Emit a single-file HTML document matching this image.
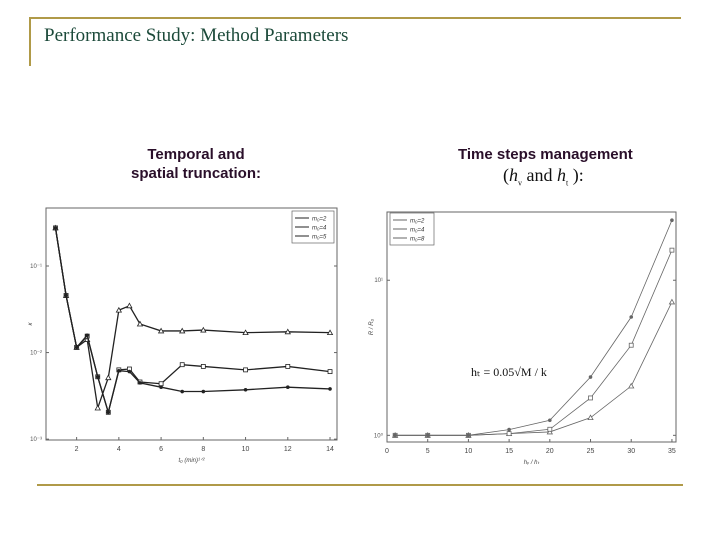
<!DOCTYPE html>
<html><head><meta charset="utf-8"><style>
body{margin:0;background:#fff;}
#root{position:relative;width:720px;height:540px;overflow:hidden;background:#fff;font-family:"Liberation Sans",sans-serif;}
.ln{position:absolute;background:#b09a48;}
.t{position:absolute;white-space:nowrap;}
</style></head><body>
<div id="root">
<div class="ln" style="left:29px;top:17px;width:652px;height:2px"></div>
<div class="ln" style="left:29px;top:17px;width:2px;height:49px"></div>
<div class="ln" style="left:37px;top:484px;width:646px;height:2px"></div>
<div class="t" style="left:44px;top:25px;font-family:'Liberation Serif',serif;font-size:19px;color:#1c4a3a">Performance Study: Method Parameters</div>
<div class="t" style="left:196px;top:145px;transform:translateX(-50%);text-align:center;font-size:15px;font-weight:bold;line-height:19px;color:#2a0f2a">Temporal and<br>spatial truncation:</div>
<div class="t" style="left:458px;top:146px;font-size:15px;font-weight:bold;color:#2a0f2a">Time steps management</div>
<div class="t" style="left:503px;top:165px;font-family:'Liberation Serif',serif;font-size:18px;color:#111">(<i>h</i><sub style="font-size:8px">v</sub> and <i>h</i><sub style="font-size:8px">t</sub> ):</div>
<svg id="c1" style="position:absolute;left:0;top:0" width="720" height="540"></svg>
</div>
<script>
// Left chart data
const xs1 = [1,1.5,2,2.5,3,3.5,4,4.5,5,6,7,8,10,12,14];
const logTri1 = [-0.56,-1.34,-1.94,-1.85,-2.64,-2.29,-1.51,-1.46,-1.67,-1.75,-1.75,-1.74,-1.77,-1.76,-1.77];
const logSq1 = [-0.56,-1.34,-1.94,-1.81,-2.28,-2.69,-2.20,-2.19,-2.34,-2.36,-2.14,-2.16,-2.20,-2.16,-2.22];
const logStar1 = [-0.56,-1.34,-1.94,-1.80,-2.28,-2.69,-2.21,-2.22,-2.35,-2.40,-2.45,-2.45,-2.43,-2.40,-2.42];
const xTicks1 = [2,4,6,8,10,12,14];
const yTicks1 = [-3,-2,-1];
// Right chart data
const xs2 = [1,5,10,15,20,25,30,35];
const logTri2 = [0,0,0,0.011,0.022,0.114,0.318,0.860];
const logSq2 = [0,0,0,0.011,0.039,0.241,0.581,1.194];
const logStar2 = [0,0,0,0.037,0.097,0.376,0.763,1.387];
const xTicks2 = [0,5,10,15,20,25,30,35];
const yTicks2 = [0,1];

const NS="http://www.w3.org/2000/svg";
const svg=document.getElementById('c1');
function mk(tag,attrs,parent){const e=document.createElementNS(NS,tag);for(const k in attrs)e.setAttribute(k,attrs[k]);(parent||svg).appendChild(e);return e;}

function chart(o){
  const g=mk('g',{});
  
  
  const X=v=>o.L+(v-o.x0)/(o.x1-o.x0)*(o.R-o.L);
  const Y=v=>o.B-(v-o.y0)/(o.y1-o.y0)*(o.B-o.T);
  const fr=mk('rect',{x:o.L,y:o.T,width:o.R-o.L,height:o.B-o.T,fill:'none',stroke:'#666','stroke-width':1},g);
  
  
  o.xt.forEach(v=>{
    mk('line',{x1:X(v),x2:X(v),y1:o.B,y2:o.B-3,stroke:'#666'},g);
    const t=mk('text',{x:X(v),y:o.B+11,'font-size':7,'text-anchor':'middle',fill:'#444'},g);
    t.textContent=v;
    
    
  });
  o.yt.forEach(v=>{
    mk('line',{x1:o.L,x2:o.L+3,y1:Y(v),y2:Y(v),stroke:'#666'},g);
    mk('line',{x1:o.R,x2:o.R-3,y1:Y(v),y2:Y(v),stroke:'#666'},g);
    const t=mk('text',{x:o.L-4,y:Y(v)+2,'font-size':6,'text-anchor':'end',fill:'#555'},g);
    t.textContent='10'+(v<0?'\u207B':'')+['\u2070','\u00B9','\u00B2','\u00B3'][Math.abs(v)];
    
    
  });
  o.series.forEach(s=>{
    const pts=o.xs.map((x,i)=>X(x)+','+Y(s.d[i])).join(' ');
    const pl=mk('polyline',{points:pts,fill:'none',stroke:o.col,'stroke-width':o.sw},g);
    
    
    o.xs.forEach((x,i)=>{
      const cx=X(x),cy=Y(s.d[i]);let m;
      if(s.k==='tri')m=mk('polygon',{points:`${cx},${cy-2.5} ${cx-2.5},${cy+2} ${cx+2.5},${cy+2}`,fill:'#fff',stroke:o.col,'stroke-width':0.8},g);
      else if(s.k==='sq')m=mk('rect',{x:cx-2,y:cy-2,width:4,height:4,fill:'#fff',stroke:o.col,'stroke-width':0.8},g);
      else m=mk('circle',{cx,cy,r:1.8,fill:o.col},g);
      
      
    });
  });
  const lg=mk('g',{},g);
  
  
  mk('rect',{x:o.lx,y:o.ly,width:o.lw,height:32,fill:'#fff',stroke:'#666','stroke-width':0.7},lg);
  o.series.forEach((s,i)=>{
    const y=o.ly+7+i*9;
    mk('line',{x1:o.lx+3,x2:o.lx+17,y1:y,y2:y,stroke:o.col},lg);
    const t=mk('text',{x:o.lx+20,y:y+2.5,'font-size':6,'font-style':'italic',fill:'#333'},lg);
    t.textContent='m\u2080='+s.lab;
    
    
  });
  const xl=mk('text',{x:(o.L+o.R)/2,y:o.B+22,'font-size':6,'text-anchor':'middle','font-style':'italic',fill:'#444'},g);
  xl.textContent=o.xlab;
  
  
  const yl=mk('text',{x:o.L-14,y:(o.T+o.B)/2,'font-size':6,'text-anchor':'middle','font-style':'italic',fill:'#444',transform:`rotate(-90 ${o.L-14} ${(o.T+o.B)/2})`},g);
  yl.textContent=o.ylab;
  
  
  return {X,Y};
}
chart({name:'left-chart',L:46,R:337,T:208,B:440,x0:0.55,x1:14.33,y0:-3.01,y1:-0.33,xs:xs1,xt:xTicks1,yt:yTicks1,col:'#222',sw:1.3,
  series:[{k:'tri',d:logTri1,lab:'2'},{k:'sq',d:logSq1,lab:'4'},{k:'star',d:logStar1,lab:'5'}],lx:292,ly:211,lw:42,xlab:'t\u2080 (min)\u00B9\u141F\u00B2',ylab:'\u03BA'});
chart({name:'right-chart',L:387,R:676,T:212,B:442,x0:0,x1:35.5,y0:-0.043,y1:1.44,xs:xs2,xt:xTicks2,yt:yTicks2,col:'#666',sw:0.8,
  series:[{k:'tri',d:logTri2,lab:'2'},{k:'sq',d:logSq2,lab:'4'},{k:'star',d:logStar2,lab:'8'}],lx:390,ly:213,lw:44,xlab:'h\u1D65 / h\u209C',ylab:'R / R\u2080'});
const f=mk('text',{x:471,y:376,'font-size':12,'font-family':'Liberation Serif, serif',fill:'#111'});
f.textContent='h\u209C = 0.05\u221AM / k';


</script>
</body></html>
